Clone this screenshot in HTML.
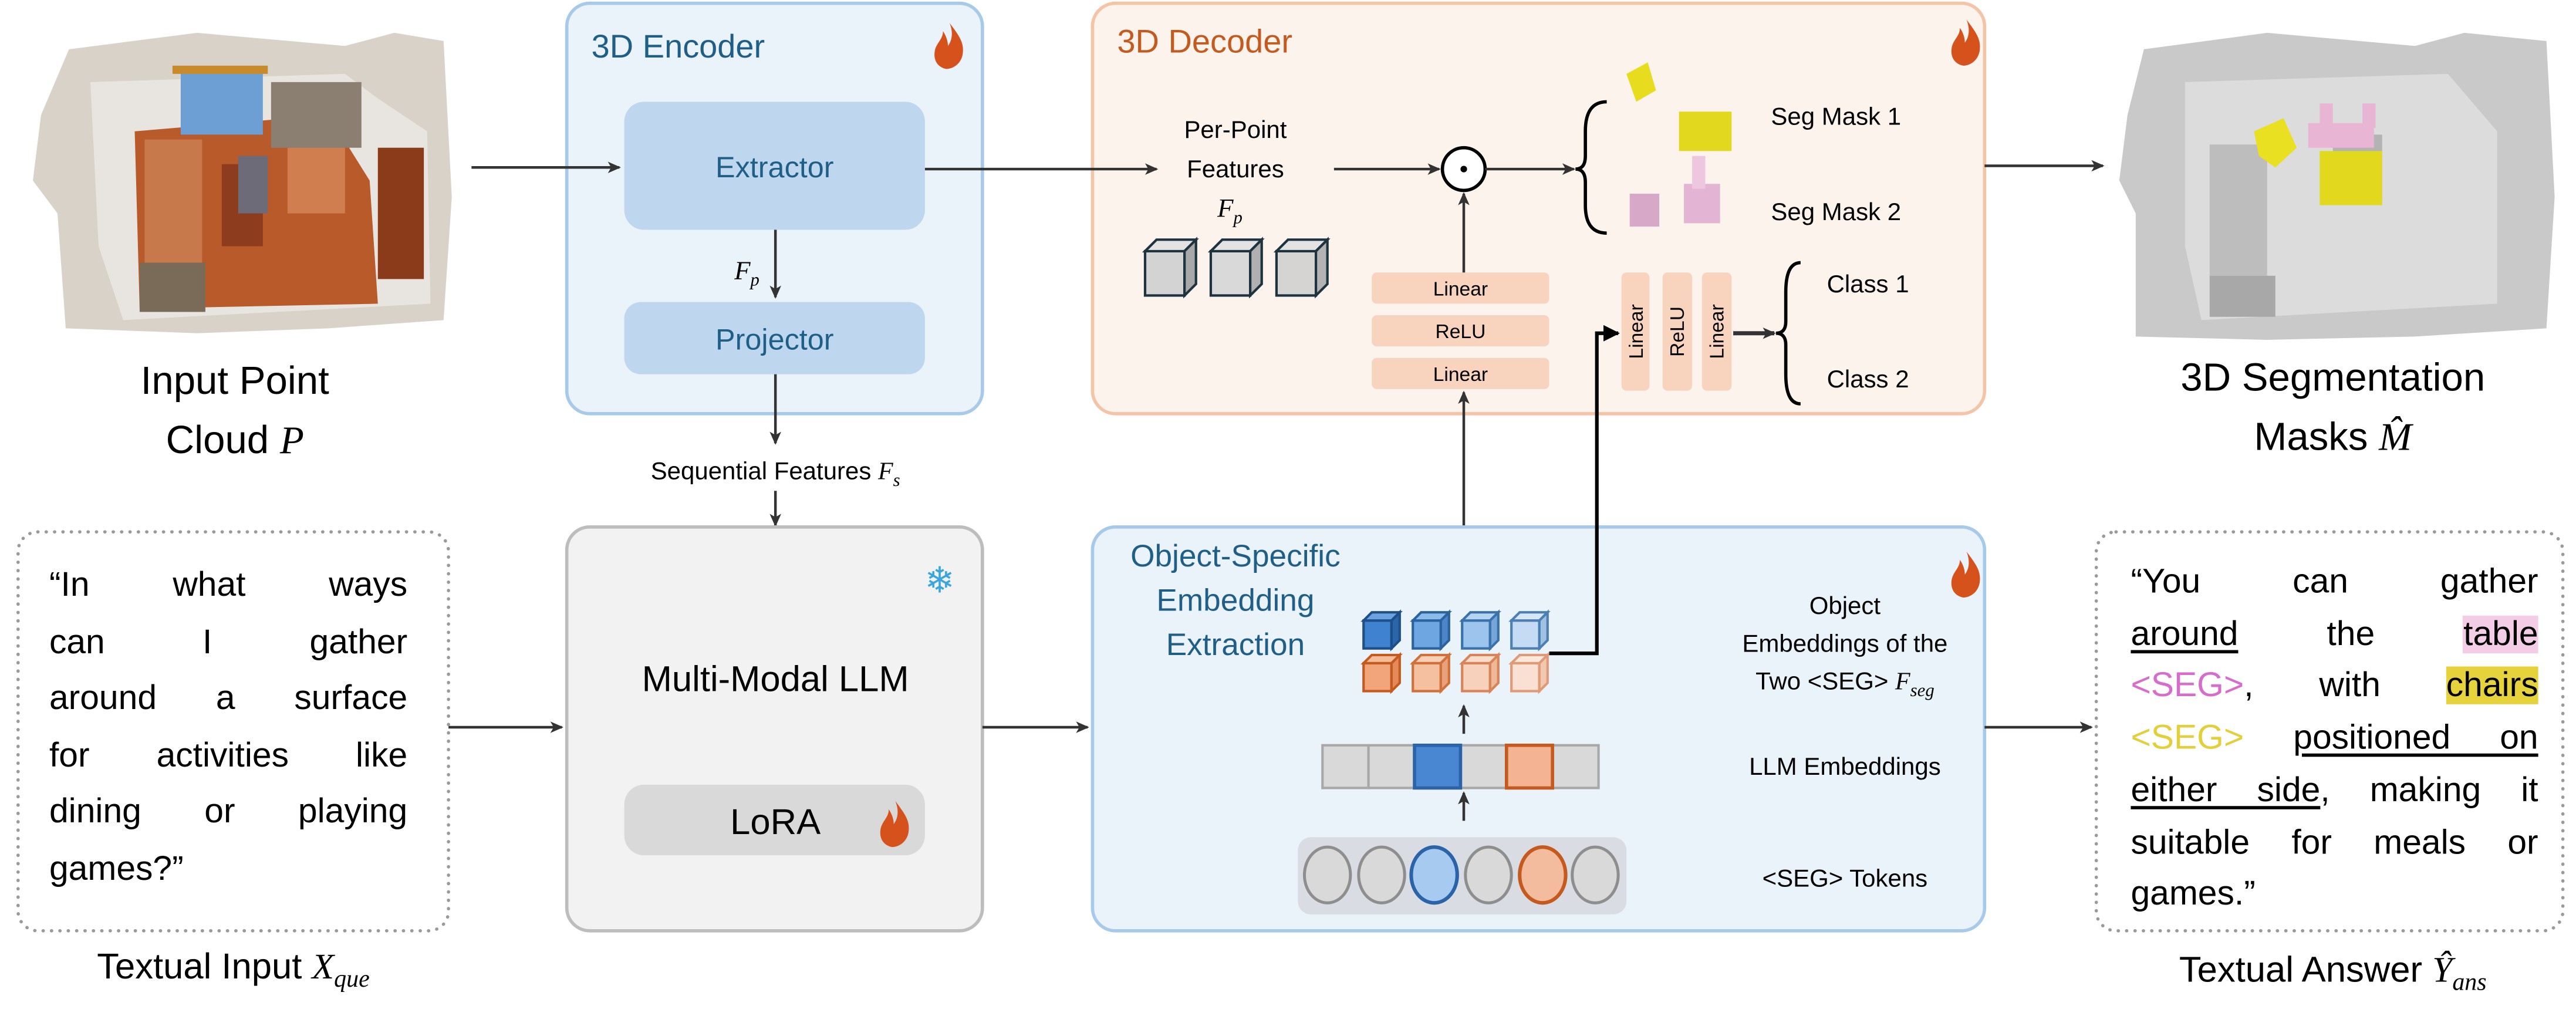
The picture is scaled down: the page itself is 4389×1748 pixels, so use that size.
<!DOCTYPE html>
<html><head><meta charset="utf-8"><style>
html,body{margin:0;padding:0;background:#fff;}
#wrap{width:4389px;height:1748px;overflow:hidden;position:relative;}
#s{position:absolute;left:0;top:0;width:1568px;height:625px;transform-origin:0 0;transform:scale(2.79911,2.7968);font-family:"Liberation Sans",sans-serif;}
.jl{text-align:justify;text-align-last:justify;white-space:normal;}
.box{position:absolute;font-size:21px;line-height:34.5px;color:#000;}
u{text-decoration:underline;text-decoration-thickness:2px;text-underline-offset:3px;}
</style></head><body><div id="wrap"><div id="s">
<svg width="1568" height="625" viewBox="0 0 1568 625" style="position:absolute;left:0;top:0" font-family="Liberation Sans, sans-serif">
<defs>
<marker id="ah" markerWidth="8" markerHeight="8" refX="7" refY="4" orient="auto" markerUnits="userSpaceOnUse"><path d="M0,0.5 L8,4 L0,7.5 L2,4 Z" fill="#333"/></marker>
<marker id="ahb" markerWidth="10" markerHeight="10" refX="9" refY="5" orient="auto" markerUnits="userSpaceOnUse"><path d="M0,0 L10,5 L0,10 Z" fill="#000"/></marker>
<g id="flame"><path d="M0,-14 C6,-6 9,-2 8,5 C7,11 2,14 -2,14 C-7,13 -10,9 -9,3 C-8,-2 -4,-4 -4,-9 C-2,-6 -1,-3 -1,0 C2,-4 2,-9 0,-14 Z" fill="#d6521c"/></g>
</defs>
<g>
<path d="M42,30 L120,20 L210,28 L240,20 L270,25 L275,120 L270,195 L200,200 L120,203 L40,200 L35,130 L20,110 L25,70 Z" fill="#d8d2c8"/>
<path d="M55,50 L210,45 L230,60 L260,80 L262,185 L75,195 L60,150 Z" fill="#e8e5e0"/>
<path d="M82,80 L200,70 L225,110 L230,185 L85,188 Z" fill="#b85a2a"/>
<rect x="110" y="42" width="50" height="40" fill="#6d9fd4"/>
<rect x="105" y="40" width="58" height="5" fill="#c98a2c"/>
<rect x="88" y="85" width="35" height="80" fill="#c8794b"/>
<rect x="175" y="85" width="35" height="45" fill="#d07e50"/>
<rect x="135" y="100" width="25" height="50" fill="#8e3c1e"/>
<rect x="145" y="95" width="18" height="35" fill="#6e6b78"/>
<rect x="165" y="50" width="55" height="40" fill="#8a7f70"/>
<rect x="230" y="90" width="28" height="80" fill="#8b3a1a"/>
<rect x="85" y="160" width="40" height="30" fill="#7a6a58"/>
</g>
<text x="143" y="240" font-size="24" text-anchor="middle">Input Point</text>
<text x="143" y="276" font-size="24" text-anchor="middle">Cloud <tspan font-style="italic" font-family="Liberation Serif, serif">P</tspan></text>
<g>
<path d="M1305,30 L1380,20 L1470,28 L1500,20 L1550,25 L1555,120 L1550,200 L1470,205 L1380,207 L1300,205 L1300,130 L1290,110 L1295,70 Z" fill="#c9c9c9"/>
<path d="M1330,50 L1490,45 L1520,80 L1520,185 L1340,195 L1330,150 Z" fill="#dcdcdc"/>
<rect x="1345" y="88" width="35" height="80" fill="#bdbdbd"/>
<rect x="1420" y="82" width="30" height="40" fill="#b3b3b3"/>
<path d="M1372,80 L1390,72 L1398,90 L1385,102 L1375,95 Z" fill="#e8e020"/>
<rect x="1412" y="92" width="38" height="33" fill="#e2d81e"/>
<rect x="1405" y="75" width="40" height="15" fill="#e8b6d4"/>
<rect x="1412" y="63" width="8" height="15" fill="#e8b6d4"/>
<rect x="1438" y="63" width="8" height="15" fill="#e8b6d4"/>
<rect x="1345" y="168" width="40" height="25" fill="#a8a8a8"/>
</g>
<text x="1420" y="238" font-size="24" text-anchor="middle">3D Segmentation</text>
<text x="1420" y="274" font-size="24" text-anchor="middle">Masks <tspan font-style="italic" font-family="Liberation Serif, serif">M̂</tspan></text>
<rect x="345" y="2" width="253" height="250" rx="14" fill="#eaf2fa" stroke="#a7caea" stroke-width="2"/>
<text x="360" y="35" font-size="20" fill="#1f5f87">3D Encoder</text>
<use href="#flame" x="578" y="28"/>
<rect x="380" y="62" width="183" height="78" rx="12" fill="#bed7ef"/>
<text x="471.5" y="108" font-size="18" fill="#1f5f87" text-anchor="middle">Extractor</text>
<rect x="380" y="184" width="183" height="44" rx="10" fill="#bed7ef"/>
<text x="471.5" y="213" font-size="18" fill="#1f5f87" text-anchor="middle">Projector</text>
<line x1="472" y1="140" x2="472" y2="181" stroke="#333" stroke-width="1.6" marker-end="url(#ah)"/>
<text x="447" y="170" font-size="16" font-style="italic" font-family="Liberation Serif, serif">F<tspan font-size="11" dy="4">p</tspan></text>
<line x1="472" y1="228" x2="472" y2="270" stroke="#333" stroke-width="1.6" marker-end="url(#ah)"/>
<text x="472" y="292" font-size="15" text-anchor="middle">Sequential Features <tspan font-style="italic" font-family="Liberation Serif, serif">F<tspan font-size="11" dy="4">s</tspan></tspan></text>
<line x1="472" y1="299" x2="472" y2="320" stroke="#333" stroke-width="1.6" marker-end="url(#ah)"/>
<rect x="345" y="321" width="253" height="246" rx="14" fill="#f2f2f2" stroke="#bdbdbd" stroke-width="2"/>
<text x="572" y="361" font-size="22" fill="#3aa6dd" text-anchor="middle">❄</text>
<text x="472" y="421" font-size="22" text-anchor="middle">Multi-Modal LLM</text>
<rect x="380" y="478" width="183" height="43" rx="12" fill="#d9d9d9"/>
<text x="472" y="508" font-size="22" text-anchor="middle">LoRA</text>
<use href="#flame" x="545" y="502"/>
<rect x="665" y="2" width="543" height="250" rx="14" fill="#fdf3ed" stroke="#f5c4a6" stroke-width="2"/>
<text x="680" y="32" font-size="20" fill="#c55a1e">3D Decoder</text>
<use href="#flame" x="1197" y="26"/>
<line x1="563" y1="103" x2="704" y2="103" stroke="#333" stroke-width="1.6" marker-end="url(#ah)"/>
<line x1="287" y1="102" x2="377" y2="102" stroke="#333" stroke-width="1.6" marker-end="url(#ah)"/>
<text x="752" y="84" font-size="15" text-anchor="middle">Per-Point</text>
<text x="752" y="108" font-size="15" text-anchor="middle">Features</text>
<text x="741" y="132" font-size="16" font-style="italic" font-family="Liberation Serif, serif">F<tspan font-size="11" dy="4">p</tspan></text>
<g stroke="#1e3340" stroke-width="1.5">
<g><rect x="697" y="153" width="24" height="27" fill="#d3d3d3"/><path d="M697,153 L704,146 L728,146 L721,153 Z" fill="#e3e3e3"/><path d="M721,153 L728,146 L728,173 L721,180 Z" fill="#a8a8a8"/></g>
<g><rect x="737" y="153" width="24" height="27" fill="#d9d9d9"/><path d="M737,153 L744,146 L768,146 L761,153 Z" fill="#e3e3e3"/><path d="M761,153 L768,146 L768,173 L761,180 Z" fill="#b0b0b0"/></g>
<g><rect x="777" y="153" width="24" height="27" fill="#d6d4d3"/><path d="M777,153 L784,146 L808,146 L801,153 Z" fill="#e3e3e3"/><path d="M801,153 L808,146 L808,173 L801,180 Z" fill="#b3b3b3"/></g>
</g>
<line x1="812" y1="103" x2="876" y2="103" stroke="#333" stroke-width="1.6" marker-end="url(#ah)"/>
<circle cx="891" cy="103" r="13" fill="#fff" stroke="#000" stroke-width="2"/>
<circle cx="891" cy="103" r="2" fill="#000"/>
<line x1="904" y1="103" x2="958" y2="103" stroke="#333" stroke-width="1.6" marker-end="url(#ah)"/>
<path d="M978,62 Q965,62 965,80 L965,95 Q965,103 959,103 Q965,103 965,111 L965,125 Q965,142 978,142" fill="none" stroke="#000" stroke-width="2"/>
<path d="M990,45 L1003,38 L1008,55 L996,62 Z" fill="#e7dc1e"/>
<rect x="1022" y="68" width="32" height="24" fill="#e2d81e"/>
<rect x="992" y="118" width="18" height="20" fill="#d8a8c8"/>
<rect x="1025" y="112" width="22" height="24" fill="#e4b4d4"/>
<rect x="1030" y="95" width="8" height="20" fill="#efc6df"/>
<text x="1078" y="76" font-size="15">Seg Mask 1</text>
<text x="1078" y="134" font-size="15">Seg Mask 2</text>
<g font-size="12" text-anchor="middle">
<rect x="835" y="166" width="108" height="19" rx="3" fill="#f8d3be"/><text x="889" y="180">Linear</text>
<rect x="835" y="192" width="108" height="19" rx="3" fill="#f8d3be"/><text x="889" y="206">ReLU</text>
<rect x="835" y="218" width="108" height="19" rx="3" fill="#f8d3be"/><text x="889" y="232">Linear</text>
</g>
<line x1="891" y1="166" x2="891" y2="118" stroke="#333" stroke-width="1.6" marker-end="url(#ah)"/>
<line x1="891" y1="320" x2="891" y2="239" stroke="#333" stroke-width="1.6" marker-end="url(#ah)"/>
<g font-size="12" text-anchor="middle">
<rect x="987" y="166" width="17" height="72" rx="3" fill="#f8d3be"/><text transform="translate(1000,202) rotate(-90)" x="0" y="0">Linear</text>
<rect x="1012" y="166" width="18" height="72" rx="3" fill="#f8d3be"/><text transform="translate(1025,202) rotate(-90)" x="0" y="0">ReLU</text>
<rect x="1036" y="166" width="18" height="72" rx="3" fill="#f8d3be"/><text transform="translate(1049,202) rotate(-90)" x="0" y="0">Linear</text>
</g>
<line x1="1055" y1="203" x2="1080" y2="203" stroke="#333" stroke-width="2.5" marker-end="url(#ah)"/>
<path d="M1096,160 Q1087,160 1087,178 L1087,196 Q1087,203 1081,203 Q1087,203 1087,210 L1087,228 Q1087,246 1096,246" fill="none" stroke="#000" stroke-width="2"/>
<text x="1112" y="178" font-size="15">Class 1</text>
<text x="1112" y="236" font-size="15">Class 2</text>
<rect x="665" y="321" width="543" height="246" rx="14" fill="#eaf2fa" stroke="#a7caea" stroke-width="2"/>
<g font-size="19" fill="#1f5f87" text-anchor="middle">
<text x="752" y="345">Object-Specific</text>
<text x="752" y="372">Embedding</text>
<text x="752" y="399">Extraction</text>
</g>
<use href="#flame" x="1197" y="350"/>
<g stroke-width="1.5">
<g stroke="#1e4f8a"><rect x="830" y="378" width="17" height="17" fill="#3f82cf"/><path d="M830,378 L835,373 L852,373 L847,378 Z" fill="#6aa3e0"/><path d="M847,378 L852,373 L852,390 L847,395 Z" fill="#2c66aa"/></g>
<g stroke="#2a63a0"><rect x="860" y="378" width="17" height="17" fill="#6ea6e2"/><path d="M860,378 L865,373 L882,373 L877,378 Z" fill="#8bbbe9"/><path d="M877,378 L882,373 L882,390 L877,395 Z" fill="#4d86c8"/></g>
<g stroke="#3a72ae"><rect x="890" y="378" width="17" height="17" fill="#9cc4ec"/><path d="M890,378 L895,373 L912,373 L907,378 Z" fill="#b6d4f1"/><path d="M907,378 L912,373 L912,390 L907,395 Z" fill="#76a5d8"/></g>
<g stroke="#4c80b4"><rect x="920" y="378" width="17" height="17" fill="#c4dbf3"/><path d="M920,378 L925,373 L942,373 L937,378 Z" fill="#d6e6f6"/><path d="M937,378 L942,373 L942,390 L937,395 Z" fill="#a2c0e2"/></g>
<g stroke="#c55a1e"><rect x="830" y="404" width="17" height="17" fill="#f2a47a"/><path d="M830,404 L835,399 L852,399 L847,404 Z" fill="#f6bc9a"/><path d="M847,404 L852,399 L852,416 L847,421 Z" fill="#e48a5a"/></g>
<g stroke="#d0703a"><rect x="860" y="404" width="17" height="17" fill="#f5c0a0"/><path d="M860,404 L865,399 L882,399 L877,404 Z" fill="#f8d0b8"/><path d="M877,404 L882,399 L882,416 L877,421 Z" fill="#eaa27c"/></g>
<g stroke="#d8845a"><rect x="890" y="404" width="17" height="17" fill="#f7d1bc"/><path d="M890,404 L895,399 L912,399 L907,404 Z" fill="#fadccb"/><path d="M907,404 L912,399 L912,416 L907,421 Z" fill="#efb898"/></g>
<g stroke="#e09a78"><rect x="920" y="404" width="17" height="17" fill="#f9e0d2"/><path d="M920,404 L925,399 L942,399 L937,404 Z" fill="#fbe8dd"/><path d="M937,404 L942,399 L942,416 L937,421 Z" fill="#f2c8b0"/></g>
</g>
<polyline points="943,398 972,398 972,203 985,203" fill="none" stroke="#000" stroke-width="2.2" marker-end="url(#ahb)"/>
<line x1="891" y1="447" x2="891" y2="430" stroke="#333" stroke-width="1.6" marker-end="url(#ah)"/>
<g stroke="#a8a8a8" stroke-width="1.5">
<rect x="805" y="454" width="28" height="26" fill="#d9d9d9"/>
<rect x="833" y="454" width="28" height="26" fill="#d9d9d9"/>
<rect x="889" y="454" width="28" height="26" fill="#d9d9d9"/>
<rect x="945" y="454" width="28" height="26" fill="#d9d9d9"/>
</g>
<rect x="861" y="454" width="28" height="26" fill="#4a87d2" stroke="#2a63a8" stroke-width="2"/>
<rect x="917" y="454" width="28" height="26" fill="#f4b493" stroke="#c55a1e" stroke-width="2"/>
<line x1="891" y1="500" x2="891" y2="483" stroke="#333" stroke-width="1.6" marker-end="url(#ah)"/>
<rect x="790" y="510" width="200" height="47" rx="8" fill="#d9dde3"/>
<g stroke="#8e8e8e" stroke-width="1.8" fill="#d9d9d9">
<ellipse cx="808" cy="533" rx="14" ry="17"/><ellipse cx="841" cy="533" rx="14" ry="17"/>
<ellipse cx="906" cy="533" rx="14" ry="17"/><ellipse cx="971" cy="533" rx="14" ry="17"/>
</g>
<ellipse cx="873" cy="533" rx="14" ry="17" fill="#a7cbf0" stroke="#2a63a8" stroke-width="2.2"/>
<ellipse cx="939" cy="533" rx="14" ry="17" fill="#f4bc9e" stroke="#c55a1e" stroke-width="2.2"/>
<g font-size="15" text-anchor="middle">
<text x="1123" y="374">Object</text>
<text x="1123" y="397">Embeddings of  the</text>
<text x="1123" y="420">Two &lt;SEG&gt; <tspan font-style="italic" font-family="Liberation Serif, serif">F<tspan font-size="11" dy="4">seg</tspan></tspan></text>
<text x="1123" y="472">LLM Embeddings</text>
<text x="1123" y="540">&lt;SEG&gt; Tokens</text>
</g>
<line x1="273" y1="443" x2="342" y2="443" stroke="#333" stroke-width="1.6" marker-end="url(#ah)"/>
<line x1="598" y1="443" x2="662" y2="443" stroke="#333" stroke-width="1.6" marker-end="url(#ah)"/>
<line x1="1208" y1="443" x2="1273" y2="443" stroke="#333" stroke-width="1.6" marker-end="url(#ah)"/>
<line x1="1208" y1="101" x2="1280" y2="101" stroke="#333" stroke-width="1.6" marker-end="url(#ah)"/>
<rect x="11" y="324" width="262" height="243" rx="12" fill="none" stroke="#9a9a9a" stroke-width="2" stroke-dasharray="0.1 5" stroke-linecap="round"/>
<rect x="1276" y="324" width="284" height="243" rx="12" fill="none" stroke="#9a9a9a" stroke-width="2" stroke-dasharray="0.1 5" stroke-linecap="round"/>
<text x="142" y="596" font-size="22" text-anchor="middle">Textual Input <tspan font-style="italic" font-family="Liberation Serif, serif">X<tspan font-size="15" dy="5">que</tspan></tspan></text>
<text x="1420" y="598" font-size="22" text-anchor="middle">Textual Answer <tspan font-style="italic" font-family="Liberation Serif, serif">Ŷ<tspan font-size="15" dy="5">ans</tspan></tspan></text>
</svg>
<div class="box" style="left:30px;top:340px;width:218px;">
<div class="jl">“In what ways</div>
<div class="jl">can I gather</div>
<div class="jl">around a surface</div>
<div class="jl">for activities like</div>
<div class="jl">dining or playing</div>
<div>games?”</div>
</div>
<div class="box" style="left:1297px;top:339px;width:248px;line-height:31.7px;">
<div class="jl">“You can gather</div>
<div class="jl"><u>around</u> the <span style="background:#f3cde6">table</span></div>
<div class="jl"><span style="color:#d76ccc">&lt;SEG&gt;</span>, with <span style="background:#e6d23a">chairs</span></div>
<div class="jl"><span style="color:#e3cf3a">&lt;SEG&gt;</span> <u>positioned on</u></div>
<div class="jl"><u>either side</u>, making it</div>
<div class="jl">suitable for meals or</div>
<div>games.”</div>
</div>
</div></div></body></html>
